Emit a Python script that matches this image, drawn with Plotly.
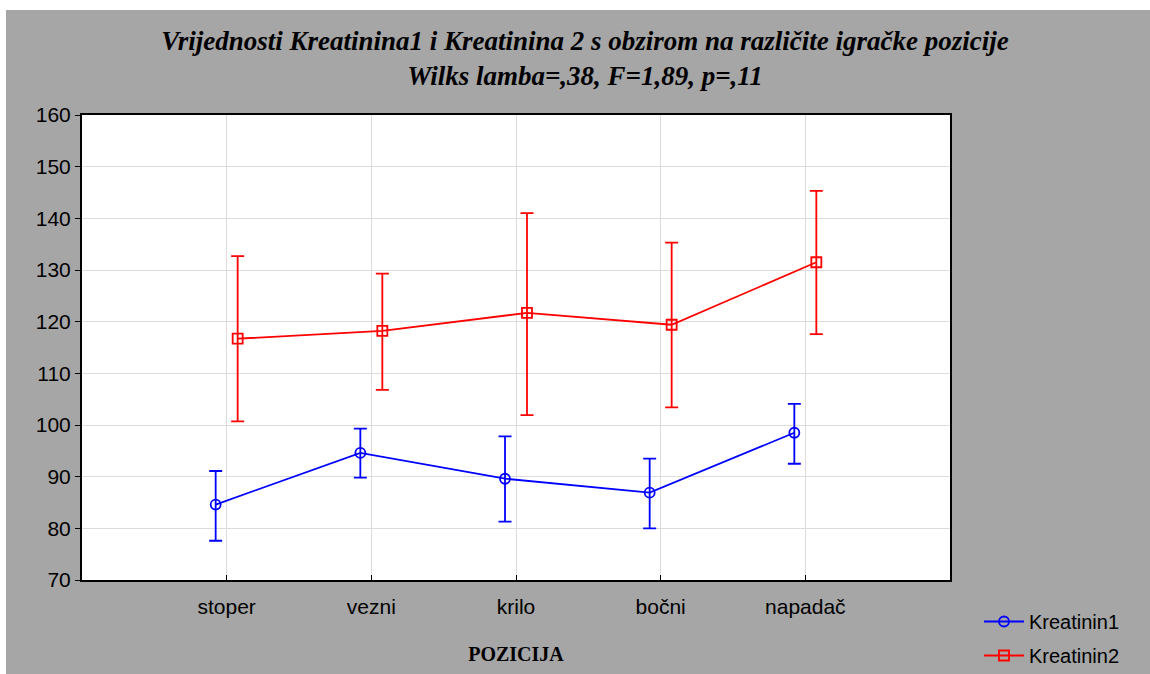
import plotly.graph_objects as go

categories = ["stoper", "vezni", "krilo", "bočni", "napadač"]

k1_mean = [84.6, 94.6, 89.6, 86.9, 98.5]
k1_upper = [91.1, 99.3, 97.8, 93.5, 104.1]
k1_lower = [77.6, 89.8, 81.3, 80.0, 92.5]

k2_mean = [116.7, 118.2, 121.7, 119.4, 131.5]
k2_upper = [132.7, 129.3, 141.0, 135.3, 145.3]
k2_lower = [100.7, 106.8, 101.9, 103.4, 117.6]

yticks = [70, 80, 90, 100, 110, 120, 130, 140, 150, 160]

offset = 0.076
idx = list(range(len(categories)))

fig = go.Figure()

def add_series(name, mean, upper, lower, color, symbol, shift):
    fig.add_trace(go.Scatter(
        x=[i + shift for i in idx],
        y=mean,
        name=name,
        legendgroup=name,
        mode="lines+markers",
        line=dict(color=color, width=1.8),
        marker=dict(symbol=symbol, size=10, color=color,
                    line=dict(color=color, width=1.8)),
        error_y=dict(type="data", symmetric=False,
                     array=[u - m for u, m in zip(upper, mean)],
                     arrayminus=[m - l for m, l in zip(mean, lower)],
                     color=color, thickness=1.8, width=6.5),
    ))

add_series("Kreatinin1", k1_mean, k1_upper, k1_lower, "#0000ff", "circle-open", -offset)
add_series("Kreatinin2", k2_mean, k2_upper, k2_lower, "#ff0000", "square-open", offset)

# body margin removed via post_script; figure fills the 1150x674 window
W, H = 1150, 674
PL, PR, PT, PB = 82, 950, 115, 580  # plot area in px
L, R, T, B = PL, W - PR, PT, H - PB
pw, ph = PR - PL, PB - PT

def px_x(p):
    return (p - PL) / pw

def px_y(p):
    return (PB - p) / ph

fig.add_shape(type="rect", xref="paper", yref="paper",
              x0=px_x(6), x1=px_x(1170), y0=px_y(700), y1=px_y(10),
              fillcolor="#a6a6a6", line=dict(width=0), layer="below")
fig.add_shape(type="rect", xref="paper", yref="paper",
              x0=0, x1=1, y0=0, y1=1,
              fillcolor="white", line=dict(width=0), layer="below")

fig.update_layout(
    width=W, height=H,
    margin=dict(l=L, r=R, t=T, b=B, autoexpand=False),
    paper_bgcolor="white",
    plot_bgcolor="white",
    title=dict(
        text="<b><i>Vrijednosti Kreatinina1 i Kreatinina 2 s obzirom na različite igračke pozicije<br>Wilks lamba=,38, F=1,89, p=,11</i></b>",
        x=585 / W, xref="container", xanchor="center",
        y=1 - 50 / H, yref="container", yanchor="top",
        font=dict(family="Liberation Serif", size=27, color="black"),
    ),
    showlegend=True,
    legend=dict(
        x=px_x(979), y=px_y(602), xanchor="left", yanchor="top",
        bgcolor="rgba(0,0,0,0)",
        font=dict(family="Liberation Sans", size=20, color="black"),
        tracegroupgap=5, itemwidth=40,
    ),
    font=dict(family="Liberation Sans", color="black"),
)

fig.update_xaxes(
    range=[-1, 5],
    tickmode="array", tickvals=idx, ticktext=categories,
    showgrid=True, gridcolor="#dcdcdc", gridwidth=1,
    showline=True, linecolor="black", linewidth=2, mirror=True,
    ticks="inside", ticklen=5, tickcolor="black",
    tickfont=dict(family="Liberation Sans", size=21, color="black"),
    ticklabelstandoff=7,
    zeroline=False, automargin=False,
    title=dict(text="<b>POZICIJA</b>",
               font=dict(family="Liberation Serif", size=20, color="black"),
               standoff=30),
)

fig.update_yaxes(
    range=[70, 160],
    tickmode="array", tickvals=yticks,
    showgrid=True, gridcolor="#dcdcdc", gridwidth=1,
    showline=True, linecolor="black", linewidth=2, mirror=True,
    ticks="outside", ticklen=5, tickcolor="black",
    tickfont=dict(family="Liberation Sans", size=21, color="black"),
    zeroline=False, automargin=False,
)

fig.write_html(
    "out.html",
    config={"displayModeBar": False},
    post_script="document.body.style.margin='0';document.body.style.overflow='hidden';",
)
